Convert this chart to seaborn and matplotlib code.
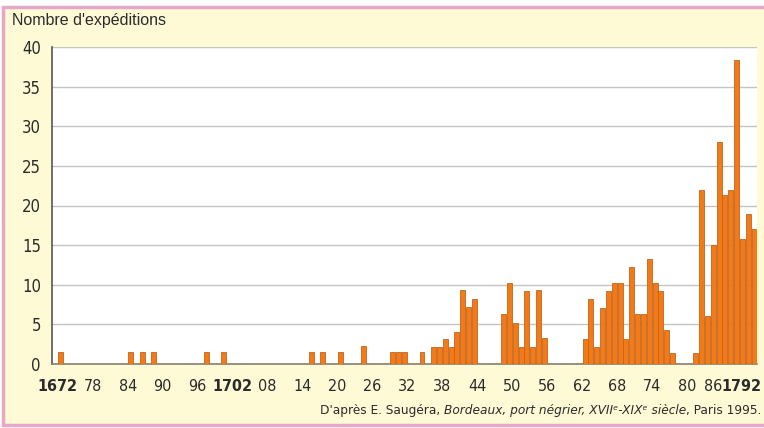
import numpy as np
import pandas as pd
import matplotlib
matplotlib.use("Agg")
import matplotlib.pyplot as plt
import matplotlib.transforms as mtransforms
from matplotlib import font_manager
from matplotlib.patches import Rectangle
import seaborn as sns

# données (années sans barre = 0 expédition)
annees = [1672, 1684, 1686, 1688, 1697, 1700, 1715, 1717, 1720, 1724,
          1729, 1730, 1731, 1734, 1736, 1737, 1738, 1739, 1740, 1741,
          1742, 1743, 1748, 1749, 1750, 1751, 1752, 1753, 1754, 1755,
          1762, 1763, 1764, 1765, 1766, 1767, 1768, 1769, 1770, 1771,
          1772, 1773, 1774, 1775, 1776, 1777, 1781, 1782, 1783, 1784,
          1785, 1786, 1787, 1788, 1789, 1790, 1791]
expeditions = [1.5, 1.5, 1.5, 1.5, 1.5, 1.5, 1.5, 1.5, 1.5, 2.3,
               1.5, 1.5, 1.5, 1.5, 2.2, 2.2, 3.1, 2.2, 4.0, 9.3,
               7.2, 8.2, 6.3, 10.2, 5.2, 2.2, 9.2, 2.2, 9.3, 3.3,
               3.2, 8.2, 2.2, 7.1, 9.2, 10.2, 10.2, 3.2, 12.2, 6.3,
               6.3, 13.2, 10.2, 9.2, 4.3, 1.4, 1.4, 22.0, 6.0, 15.0,
               28.0, 21.3, 22.0, 38.3, 15.8, 18.9, 17.0]
ticks_annees = list(range(1672, 1793, 6))
ticks_labels = ["1672", "78", "84", "90", "96", "1702", "08", "14", "20", "26",
                "32", "38", "44", "50", "56", "62", "68", "74", "80", "86", "1792"]
ticks_gras = ["1672", "1702", "1792"]

df = pd.DataFrame({"annee": annees, "nb": expeditions})
# chaque barre occupe l'intervalle [annee, annee + 1]
df["x"] = df["annee"] + 0.5

sns.set_style("white")

# police étroite si disponible
polices = font_manager.fontManager.ttflist
noms = {f.name for f in polices}
if "Liberation Sans Narrow" in noms:
    etroite = dict(family=["Liberation Sans Narrow", "DejaVu Sans"])
    taille = 13
elif any(f.name == "DejaVu Sans" and f.stretch == "condensed" for f in polices):
    etroite = dict(family=["DejaVu Sans"], stretch="condensed")
    taille = 11.5
else:
    etroite = dict(family=["Roboto", "DejaVu Sans"])
    taille = 11.5
plt.rcParams["font.family"] = etroite["family"]
if "stretch" in etroite:
    plt.rcParams["font.stretch"] = "condensed"

fig = plt.figure(figsize=(7.64, 4.28), dpi=100)
fig.patch.set_facecolor("white")
fig.add_artist(Rectangle((3 / 764, 3 / 428), 1.0, 418 / 428, transform=fig.transFigure,
                         facecolor="#fffad6", edgecolor="#e6a8c9", linewidth=2.5, zorder=-10))

ax = fig.add_axes([52 / 764, 64 / 428, 705 / 764, 317 / 428])
ax.set_facecolor("white")

sns.barplot(data=df, x="x", y="nb", native_scale=True, width=0.85,
            color="#f47a18", edgecolor="#c0651f", linewidth=0.6,
            saturation=1, errorbar=None, ax=ax, zorder=3)

ax.set_xlim(1671, 1792)
ax.set_ylim(0, 40)
ax.set_yticks(range(0, 41, 5))
ax.set_yticklabels([str(v) for v in range(0, 41, 5)], fontsize=taille + 0.5,
                   color="#2b2b2b")
ax.yaxis.grid(True, color="#c4c4c4", linewidth=1, zorder=0)
ax.xaxis.grid(False)

ax.set_xticks(ticks_annees)
ax.set_xticklabels(ticks_labels, fontsize=taille, color="#2b2b2b")
ax.set_xticks(np.arange(1672, 1793), minor=True)
ax.tick_params(axis="x", which="major", direction="out", length=9, width=1,
               color="#8a7d6d", pad=2)
ax.tick_params(axis="x", which="minor", direction="out", length=6, width=0.8,
               color="#8a7d6d")
ax.tick_params(axis="y", direction="out", length=5, width=1, color="#555555", pad=3)

for lab in ax.get_xticklabels():
    if lab.get_text() in ticks_gras:
        lab.set_fontweight("bold")
labels = ax.get_xticklabels()
# les deux dernières étiquettes sont resserrées au bord droit
labels[-1].set_horizontalalignment("right")
labels[-1].set_transform(labels[-1].get_transform() +
                         mtransforms.ScaledTranslation(4 / 100, 0, fig.dpi_scale_trans))
labels[-2].set_transform(labels[-2].get_transform() +
                         mtransforms.ScaledTranslation(-9 / 100, 0, fig.dpi_scale_trans))

for side in ["top", "right"]:
    ax.spines[side].set_visible(False)
ax.spines["left"].set_color("#555555")
ax.spines["left"].set_linewidth(1.2)
ax.spines["bottom"].set_color("#8a7d6d")
ax.spines["bottom"].set_linewidth(1.2)
ax.set_xlabel("")
ax.set_ylabel("")

fig.text(12 / 764, 1 - 21 / 428, "Nombre d'expéditions", fontsize=11.5, color="#2b2b2b",
         va="center", ha="left", family=["Liberation Sans", "DejaVu Sans"])

# source, avec la partie en italique
y_src = 11 / 428
t_src = taille - 1.8
t3 = fig.text(761 / 764, y_src, ", Paris 1995.", fontsize=t_src, color="#2b2b2b",
              ha="right", va="bottom")
t2 = ax.annotate("Bordeaux, port négrier, XVIIᵉ-XIXᵉ siècle", xy=(0, 0), xycoords=t3,
                 ha="right", va="bottom", fontsize=t_src, style="italic",
                 color="#2b2b2b", annotation_clip=False)
ax.annotate("D'après E. Saugéra, ", xy=(0, 0), xycoords=t2, ha="right", va="bottom",
            fontsize=t_src, color="#2b2b2b", annotation_clip=False)

fig.savefig("out.png", dpi=100, facecolor=fig.get_facecolor())
